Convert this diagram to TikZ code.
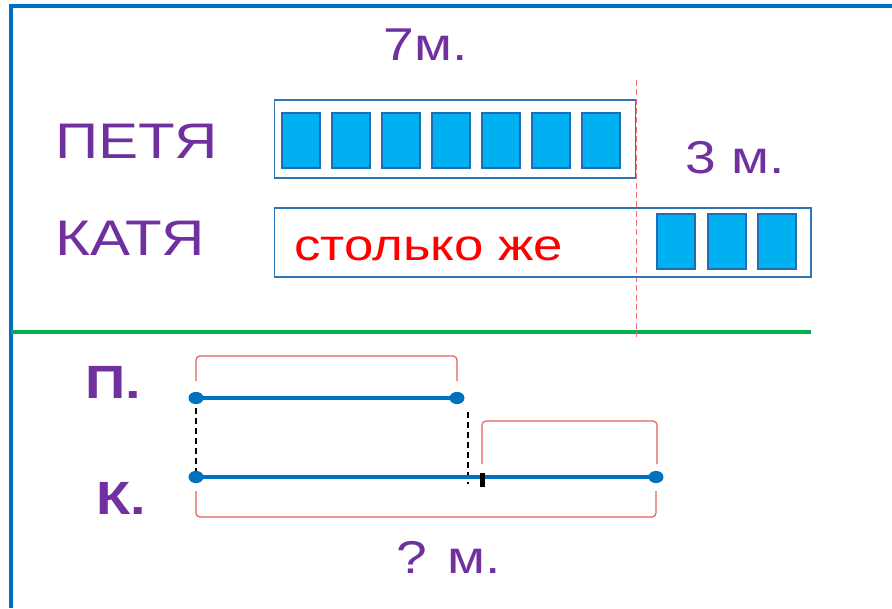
\documentclass[tikz,border=0pt]{standalone}
\usepackage{fontspec}
\usepackage{graphicx}
\setmainfont{Liberation Sans}
\definecolor{frameblue}{HTML}{0070C0}
\definecolor{txtpurple}{HTML}{7030A0}
\definecolor{boxblue}{HTML}{2E75B6}
\definecolor{sqfill}{HTML}{00B0F0}
\definecolor{sqedge}{HTML}{1F6DB5}
\definecolor{segblue}{HTML}{0070C0}
\definecolor{divgreen}{HTML}{00B050}
\definecolor{brred}{HTML}{E06060}
\definecolor{dashred}{HTML}{F06A78}
\definecolor{txtred}{HTML}{FF0000}
\newcommand{\wide}[1]{\scalebox{1.2}[1]{#1}}
\tikzset{
  frameline/.style={draw=frameblue, line width=3.2pt},
  lbl/.style={anchor=base, inner sep=0pt, text=txtpurple},
  bigfont/.style={font=\fontsize{37.5}{40}\selectfont},
  midfont/.style={font=\fontsize{34.5}{38}\selectfont},
  boldfont/.style={font=\fontsize{35}{38}\selectfont\bfseries},
  outerbox/.style={draw=boxblue, line width=1.1pt},
  unitsq/.style={draw=sqedge, fill=sqfill, line width=1.1pt},
  seg/.style={draw=segblue, line width=3pt},
  segdot/.style={fill=segblue},
  guide/.style={draw=black, line width=1.5pt, dash pattern=on 4.5pt off 3pt},
  bracketline/.style={draw=brred, line width=0.9pt, rounded corners=3pt},
  cutline/.style={draw=dashred, line width=0.75pt, dash pattern=on 4.5pt off 2.5pt},
}
\begin{document}
\begin{tikzpicture}[x=0.75pt, y=-0.75pt]
\useasboundingbox (0,0) rectangle (892,608);
\fill[white] (0,0) rectangle (892,608);
% frame
\coordinate (ftl) at (9,6);
\coordinate (ftr) at (892,6);
\coordinate (fbl) at (11,608);
\draw[frameline] (ftl) -- (ftr);
\draw[frameline] (11,4.5) -- (fbl);
% divider
\coordinate (gl) at (11,332);
\coordinate (gr) at (811,332);
\draw[draw=divgreen, line width=3pt] (gl) -- (gr);
% red dashed cut line
\coordinate (ct) at (636,80);
\coordinate (cb) at (636,337);
\draw[cutline] (ct) -- (cb);
% labels top
\node[lbl, midfont] (seven) at (425.5,60) {\wide{7м.}};
\node[lbl, bigfont] (petya) at (136.5,158) {\wide{ПЕТЯ}};
\node[lbl, bigfont] (katya) at (130,255) {\wide{КАТЯ}};
\node[lbl, midfont] (three) at (735,173) {\wide{3 м.}};
% Petya box
\draw[outerbox] (274.5,100) rectangle (635.5,178);
\foreach \i in {0,...,6} {
  \draw[unitsq] ({282+50*\i},113) rectangle ({320+50*\i},168);
}
% Katya box
\draw[outerbox] (274.5,208) rectangle (811,277);
\node[anchor=base, inner sep=0pt, text=txtred, font=\fontsize{33}{36}\selectfont] (same) at (428.5,260) {\wide{столько же}};
\foreach \x in {657,708,758} {
  \draw[unitsq] (\x,214) rectangle ({\x+38},269);
}
% lower diagram
\node[lbl, boldfont] (pl) at (113,398) {\wide{П.}};
\node[lbl, boldfont] (kl) at (121,514) {\wide{К.}};
\coordinate (p1) at (196,398);
\coordinate (p2) at (457,398);
\coordinate (k1) at (196,477);
\coordinate (k2) at (656,477);
\coordinate (g1) at (468,412);
\coordinate (g2) at (468,484);
% brackets
\draw[bracketline] (196,381) -- (196,356) -- (457,356) -- (457,381);
\draw[bracketline] (482,464) -- (482,421) -- (657,421) -- (657,464);
\draw[bracketline] (196,491) -- (196,517) -- (656,517) -- (656,491);
% dashed guides
\draw[guide] (p1) -- (k1);
\draw[guide] (g1) -- (g2);
% segments
\draw[seg] (p1) -- (p2);
\draw[seg] (k1) -- (k2);
\foreach \c in {p1,p2,k1,k2} {
  \fill[segdot] (\c) ellipse [x radius=5.6pt, y radius=4.6pt];
}
\fill[black] (480,473) rectangle (485,487);
\node[lbl, midfont] (ques) at (449,573) {\wide{? м.}};
\end{tikzpicture}
\end{document}
